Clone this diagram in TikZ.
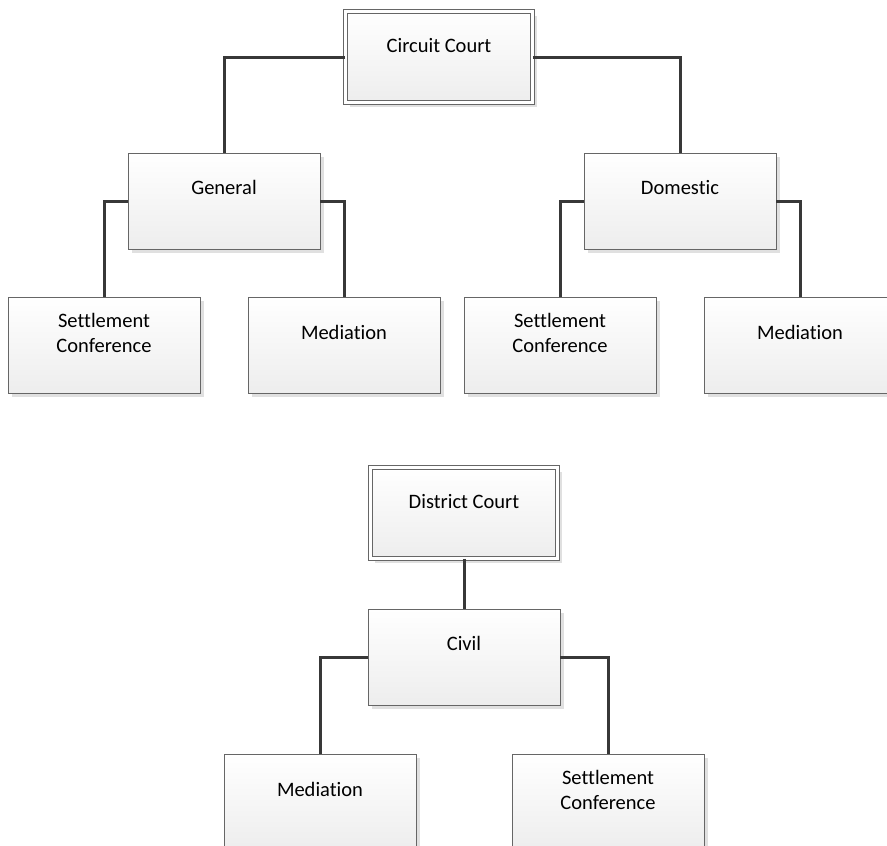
\documentclass[tikz,border=0pt]{standalone}
\usepackage{fontspec}
\setmainfont{Carlito}[Ligatures=NoCommon]
\usetikzlibrary{shadows}

\begin{document}
\begin{tikzpicture}[x=1pt,y=-1pt,
	font=\fontsize{20.5}{25}\selectfont,
	unit/.style={draw=black!60,line width=0.8pt,top color=white,bottom color=black!7,
		minimum width=192pt,minimum height=96pt,inner sep=0pt,
		general shadow={fill=black!12,shadow xshift=4pt,shadow yshift=-4pt}},
	head/.style={unit,double=white,double distance=3pt,minimum width=187pt,minimum height=91pt},
	tag/.style={align=center,inner sep=0pt},
	link/.style={draw=black!78,line width=3pt}]
	\useasboundingbox (0,0) rectangle (887,846);
	\clip (0,0) rectangle (887,846);
	\node[head] (cc) at (439,57) {};
	\node[unit] (gen) at (224,201) {};
	\node[unit] (dom) at (680,201) {};
	\node[unit] (gsc) at (104,345) {};
	\node[unit] (gmed) at (344,345) {};
	\node[unit] (dsc) at (560,345) {};
	\node[unit] (dmed) at (800,345) {};
	\node[head] (dc) at (464,513) {};
	\node[unit] (civ) at (464,657) {};
	\node[unit] (cmed) at (320,802) {};
	\node[unit] (csc) at (608,802) {};
	\node[tag] (cct) at ([yshift=-34pt]cc.north) {Circuit Court};
	\node[tag] (gent) at ([yshift=-35pt]gen.north) {General};
	\node[tag] (domt) at ([yshift=-35pt]dom.north) {Domestic};
	\node[tag] (gsct) at ([yshift=-36pt]gsc.north) {Settlement\\Conference};
	\node[tag] (gmedt) at ([yshift=-36pt]gmed.north) {Mediation};
	\node[tag] (dsct) at ([yshift=-36pt]dsc.north) {Settlement\\Conference};
	\node[tag] (dmedt) at ([yshift=-36pt]dmed.north) {Mediation};
	\node[tag] (dct) at ([yshift=-34pt]dc.north) {District Court};
	\node[tag] (civt) at ([yshift=-35pt]civ.north) {Civil};
	\node[tag] (cmedt) at ([yshift=-36pt]cmed.north) {Mediation};
	\node[tag] (csct) at ([yshift=-36pt]csc.north) {Settlement\\Conference};
	\draw[link] (cc.west) -| (gen.north);
	\draw[link] (cc.east) -| (dom.north);
	\draw[link] (gen.west) -| (gsc.north);
	\draw[link] (gen.east) -| (gmed.north);
	\draw[link] (dom.west) -| (dsc.north);
	\draw[link] (dom.east) -| (dmed.north);
	\draw[link] (dc.south) -- (civ.north);
	\draw[link] (civ.west) -| (cmed.north);
	\draw[link] (civ.east) -| (csc.north);
\end{tikzpicture}
\end{document}
